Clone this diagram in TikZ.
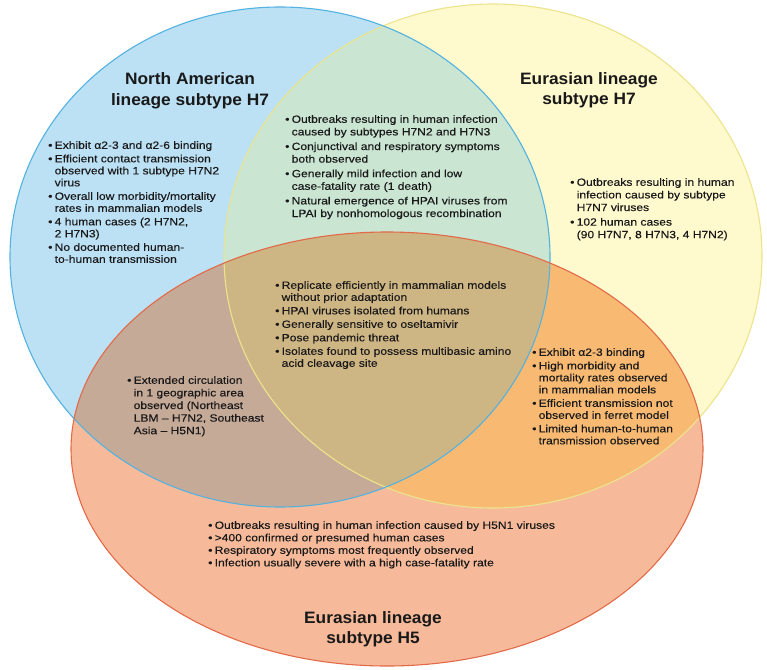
\documentclass[tikz,border=0pt]{standalone}
\usepackage{fontspec}
\setmainfont{Liberation Sans}
\newfontfamily\bodyf{Liberation Sans}[FakeStretch=1.15,FakeBold=0.3]
\newfontfamily\ttlf{Liberation Sans}[FakeStretch=1.05]
\definecolor{txt}{RGB}{25,25,25}
\definecolor{cB}{RGB}{188,225,245}
\definecolor{cY}{RGB}{255,249,206}
\definecolor{cO}{RGB}{246,186,154}
\definecolor{cBY}{RGB}{202,229,210}
\definecolor{cBO}{RGB}{198,170,152}
\definecolor{cYO}{RGB}{248,186,114}
\definecolor{cBYO}{RGB}{206,181,132}
\definecolor{eB}{RGB}{84,178,224}
\definecolor{eY}{RGB}{236,228,140}
\definecolor{eO}{RGB}{226,106,72}
\newcommand\BL{\makebox[6.5pt][l]{\textbullet}}
\newcommand\IN{\hspace*{6.5pt}}
\tikzset{
  lst/.style={anchor=north west, align=left, inner sep=0pt,
    font=\bodyf\fontsize{10.5}{12}\selectfont, text=txt},
  lstw/.style={lst, font=\bodyf\fontsize{10.5}{12.6}\selectfont},
  ttl/.style={align=center, inner sep=0pt,
    font=\ttlf\fontsize{16.5}{20.5}\bfseries\selectfont, text=txt},
  edge/.style={line width=1.1pt}
}
\begin{document}
\begin{tikzpicture}[x=1pt,y=-1pt]
\useasboundingbox (0,0) rectangle (767,669);
\def\EB{(280,257) ellipse [x radius=270, y radius=250]}
\def\EY{(493,256) ellipse [x radius=269, y radius=252]}
\def\EO{(387,449) ellipse [x radius=316, y radius=217]}
% single fills
\fill[cB] \EB;
\fill[cY] \EY;
\fill[cO] \EO;
% pairwise overlaps
\begin{scope}
  \clip \EB;
  \fill[cBY] \EY;
  \fill[cBO] \EO;
\end{scope}
\begin{scope}
  \clip \EY;
  \fill[cYO] \EO;
\end{scope}
\begin{scope}
  \clip \EB;
  \clip \EY;
  \fill[cBYO] \EO;
\end{scope}
% outlines
\draw[edge, eY] \EY;
\draw[edge, eB] \EB;
\draw[edge, eO] \EO;

% titles
\node[ttl] (tNA) at (190,91) {North American\\lineage subtype H7};
\node[ttl] (tEU7) at (589,90) {Eurasian lineage\\subtype H7};
\node[ttl] (tEU5) at (373,629) {Eurasian lineage\\subtype H5};

% lists
\node[lst] (lB) at (48,141) {\BL Exhibit α2-3 and α2-6 binding\\[1.5pt]
\BL Efficient contact transmission\\
\IN observed with 1 subtype H7N2\\
\IN virus\\[1.5pt]
\BL Overall low morbidity/mortality\\
\IN rates in mammalian models\\[1.5pt]
\BL 4 human cases (2 H7N2,\\
\IN 2 H7N3)\\[1.5pt]
\BL No documented human-\\
\IN to-human transmission};

\node[lstw] (lBY) at (285,115) {\BL Outbreaks resulting in human infection\\
\IN caused by subtypes H7N2 and H7N3\\[2pt]
\BL Conjunctival and respiratory symptoms\\
\IN both observed\\[2pt]
\BL Generally mild infection and low\\
\IN case-fatality rate (1 death)\\[2pt]
\BL Natural emergence of HPAI viruses from\\
\IN LPAI by nonhomologous recombination};

\node[lstw] (lY) at (570,178) {\BL Outbreaks resulting in human\\
\IN infection caused by subtype\\
\IN H7N7 viruses\\[2pt]
\BL 102 human cases\\
\IN (90 H7N7, 8 H7N3, 4 H7N2)};

\node[lst] (lBYO) at (275,281) {\BL Replicate efficiently in mammalian models\\
\IN without prior adaptation\\[1.5pt]
\BL HPAI viruses isolated from humans\\[1.5pt]
\BL Generally sensitive to oseltamivir\\[1.5pt]
\BL Pose pandemic threat\\[1.5pt]
\BL Isolates found to possess multibasic amino\\
\IN acid cleavage site};

\node[lstw] (lBO) at (127,376) {\BL Extended circulation\\
\IN in 1 geographic area\\
\IN observed (Northeast\\
\IN LBM – H7N2, Southeast\\
\IN Asia – H5N1)};

\node[lst] (lYO) at (532,348) {\BL Exhibit α2-3 binding\\[1.5pt]
\BL High morbidity and\\
\IN mortality rates observed\\
\IN in mammalian models\\[1.5pt]
\BL Efficient transmission not\\
\IN observed in ferret model\\[1.5pt]
\BL Limited human-to-human\\
\IN transmission observed};

\node[lst] (lO) at (208,521) {\BL Outbreaks resulting in human infection caused by H5N1 viruses\\[0.5pt]
\BL >400 confirmed or presumed human cases\\[0.5pt]
\BL Respiratory symptoms most frequently observed\\[0.5pt]
\BL Infection usually severe with a high case-fatality rate};
\end{tikzpicture}
\end{document}
